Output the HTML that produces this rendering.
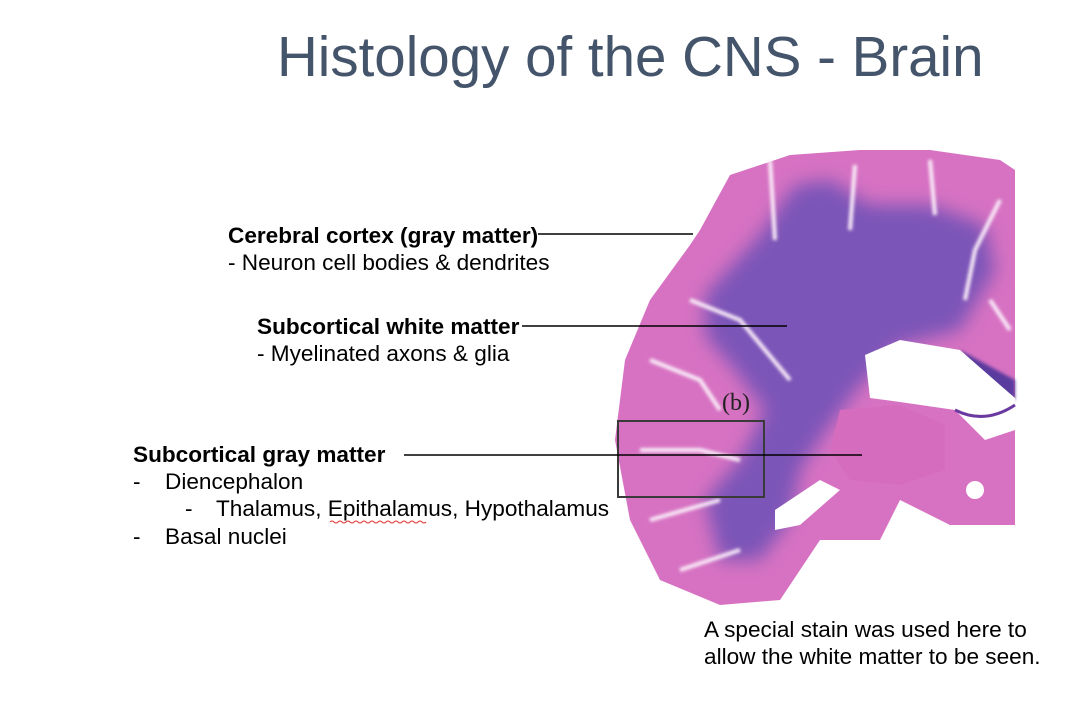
<!DOCTYPE html>
<html><head><meta charset="utf-8"><style>
html,body{margin:0;padding:0;background:#fff;}
#slide{position:relative;width:1088px;height:715px;overflow:hidden;font-family:"Liberation Sans",Arial,sans-serif;color:#000;}
.t{position:absolute;white-space:nowrap;font-size:22.6px;line-height:1;}
.b{font-weight:bold;}
</style></head><body>
<div id="slide">
<svg width="1088" height="715" style="position:absolute;left:0;top:0">
<defs><filter id="bl" x="-20%" y="-20%" width="140%" height="140%"><feGaussianBlur stdDeviation="9"/></filter>
<filter id="bl2"><feGaussianBlur stdDeviation="1.5"/></filter></defs>
<g>
<path d="M700,230 L730,175 790,155 860,150 930,150 1000,160 1015,170 1015,525 950,525 900,500 880,540 820,540 780,600 720,605 660,580 630,520 615,440 625,360 650,300 690,245Z" fill="#d772c2"/>
<path d="M705,295 L760,235 795,185 830,180 870,205 930,205 985,225 995,270 960,330 900,345 860,385 830,425 800,470 790,520 760,560 720,560 705,500 740,460 765,410 735,370 705,335Z" fill="#7b55b8" filter="url(#bl)"/>
<path d="M960,350 L1015,380 1015,400 990,395Z" fill="#5a3a9e" filter="url(#bl2)"/>
<path d="M840,410 L900,405 945,425 945,470 900,485 850,480 830,450Z" fill="#d66cbe"/>
<g fill="none" stroke="#fbeefa" stroke-width="4" filter="url(#bl2)">
<path d="M770,160 L775,240"/><path d="M855,165 L850,230"/><path d="M930,160 L935,215"/>
<path d="M1000,200 L975,250 965,300"/><path d="M690,300 L740,320 790,380"/>
<path d="M650,360 L700,380 720,410"/><path d="M640,450 L700,450 740,460"/>
<path d="M650,520 L720,500"/><path d="M680,570 L740,550"/><path d="M990,300 L1010,330"/>
</g>
<path d="M865,355 L900,340 960,350 1000,385 1015,398 1015,430 985,440 955,410 900,402 870,398Z" fill="#fff"/>
<path d="M955,410 Q985,425 1015,405" fill="none" stroke="#6a3aa0" stroke-width="3"/>
<path d="M775,510 L820,480 840,490 800,525 775,530Z" fill="#fff"/>
<circle cx="975" cy="490" r="9" fill="#fff"/>
</g>
<rect x="618" y="421" width="146" height="76" fill="none" stroke="#3a3a3a" stroke-width="2"/>
<text x="722" y="410" font-family="Liberation Serif,serif" font-size="24" fill="#222">(b)</text>
<g stroke="#000" stroke-width="1.6">
<line x1="538" y1="234" x2="693" y2="234"/>
<line x1="522" y1="326" x2="787" y2="326"/>
<line x1="404" y1="455" x2="862" y2="455"/>
</g>
<path d="M330,522 q2,-2 4,0 t4,0 4,0 4,0 4,0 4,0 4,0 4,0 4,0 4,0 4,0 4,0 4,0 4,0 4,0 4,0 4,0 4,0 4,0 4,0 4,0 4,0 4,0 4,0" fill="none" stroke="#e03030" stroke-width="1"/>
</svg>
<div class="t" style="left:277px;top:29px;font-size:56.5px;color:#44546a;">Histology of the CNS - Brain</div>
<div class="t b" style="left:228px;top:225px;">Cerebral cortex (gray matter)</div>
<div class="t" style="left:228px;top:252px;">- Neuron cell bodies &amp; dendrites</div>
<div class="t b" style="left:257px;top:316px;">Subcortical white matter</div>
<div class="t" style="left:257px;top:343px;">- Myelinated axons &amp; glia</div>
<div class="t b" style="left:133px;top:444px;">Subcortical gray matter</div>
<div class="t" style="left:133px;top:471px;">-</div>
<div class="t" style="left:165px;top:471px;">Diencephalon</div>
<div class="t" style="left:185px;top:498px;">-</div>
<div class="t" style="left:216px;top:498px;">Thalamus, Epithalamus, Hypothalamus</div>
<div class="t" style="left:133px;top:526px;">-</div>
<div class="t" style="left:165px;top:526px;">Basal nuclei</div>
<div class="t" style="left:704px;top:619px;">A special stain was used here to</div>
<div class="t" style="left:704px;top:646px;">allow the white matter to be seen.</div>
</div>
</body></html>
